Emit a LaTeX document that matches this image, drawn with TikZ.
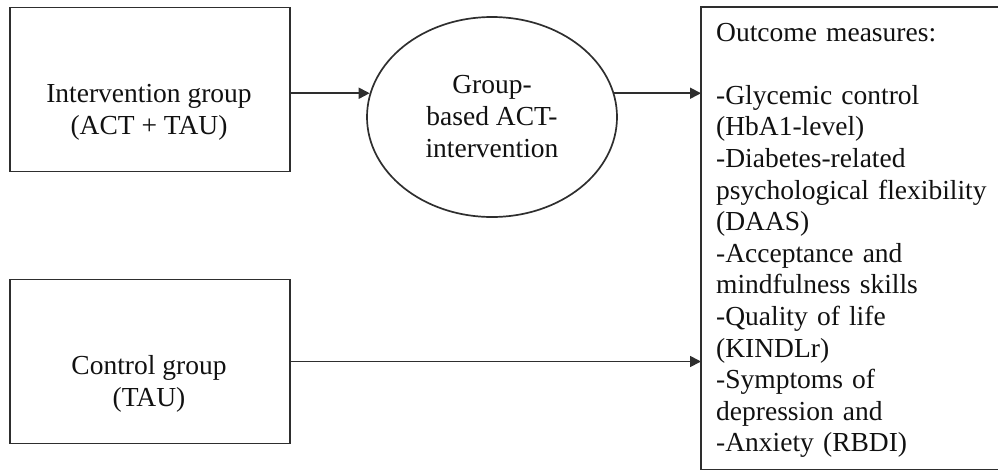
\documentclass[tikz,border=0pt]{standalone}
\usepackage{fontspec}
\setmainfont{Liberation Serif}
\usetikzlibrary{shapes.geometric,arrows.meta}

\definecolor{linegray}{HTML}{2E2E2E}
\definecolor{inkgray}{HTML}{111111}

\tikzset{
  groupbox/.style={draw=linegray, line width=1.7pt, rectangle, inner sep=0pt,
    minimum width=280pt, minimum height=164pt},
  boxtext/.style={align=center, text=inkgray,
    font=\fontsize{27.5}{32}\selectfont},
  actellipse/.style={draw=linegray, line width=1.7pt, ellipse, inner sep=0pt,
    minimum width=250pt, minimum height=200pt, align=center, text=inkgray,
    font=\fontsize{27.5}{32}\selectfont},
  outbox/.style={rectangle, inner sep=0pt,
    minimum width=300pt, minimum height=462pt, anchor=north west},
  outline/.style={draw=linegray, line width=1.7pt},
  outtext/.style={anchor=base west, inner sep=0pt, text width=275pt, align=left,
    text=inkgray, font=\fontsize{27.5}{31.6}\selectfont},
  flow/.style={draw=linegray, line width=1.7pt,
    -{Triangle[length=11pt,width=11pt]}}
}

\begin{document}
\begin{tikzpicture}[x=1pt, y=-1pt]
  \useasboundingbox (0,0) rectangle (998,471);

  % the two study arms
  \node[groupbox] (int) at (150,89.5) {};
  \node[boxtext] (intlabel) at (149,112) {Intervention group\\(ACT + TAU)};
  \node[groupbox] (ctl) at (150,361.5) {};
  \node[boxtext] (ctllabel) at (149,384) {Control group\\(TAU)};

  % the intervention
  \node[actellipse] (grp) at (492,117) {Group-\\based ACT-\\intervention};

  % outcome measures: the box is open to the right edge
  \node[outbox] (out) at (701,7) {};
  \draw[outline] (out.north east) -- (out.north west)
                 -- (out.south west) -- (out.south east);
  \node[outtext] (outlabel) at (716,41) {Outcome measures:\\[31.6pt]
    -Glycemic control\\
    (HbA1-level)\\
    -Diabetes-related\\
    psychological flexibility\\
    (DAAS)\\
    -Acceptance and\\
    mindfulness skills\\
    -Quality of life\\
    (KINDLr)\\
    -Symptoms of\\
    depression and\\
    -Anxiety (RBDI)};

  % connectors
  \draw[flow] (int.east |- grp.169) -- (grp.169);
  \draw[flow] (grp.11) -- (grp.11 -| out.west);
  \draw[flow] (ctl.east) -- (ctl.east -| out.west);
\end{tikzpicture}
\end{document}
